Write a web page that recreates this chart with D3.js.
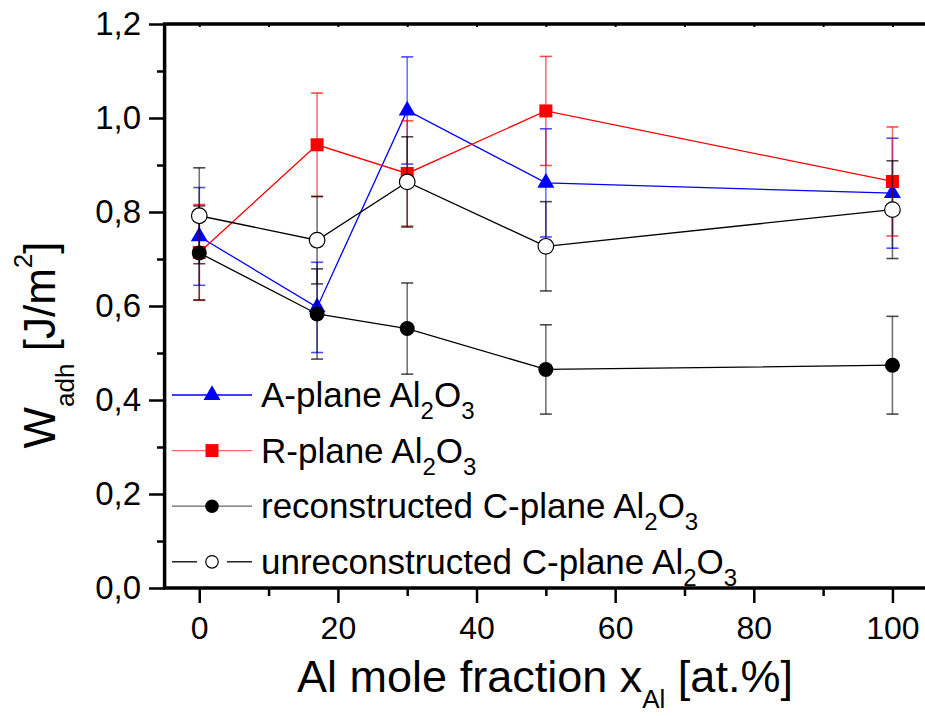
<!DOCTYPE html>
<html><head><meta charset="utf-8">
<script src="https://cdn.jsdelivr.net/npm/d3@7"></script>
<style>
body{margin:0;background:#fff;}
svg{display:block;font-family:"Liberation Sans",Arial,Helvetica,sans-serif;}
</style></head><body>
<svg id="chart" width="925" height="716"></svg>
<script>
// ---- data ----
const xValues = [0, 17, 30, 50, 100];
const aPlane = [0.748, 0.597, 1.016, 0.862, 0.840];
const aPlaneErr = [0.104, 0.096, 0.114, 0.115, 0.117];
const rPlane = [0.714, 0.943, 0.882, 1.015, 0.865];
const rPlaneErr = [0.102, 0.110, 0.112, 0.116, 0.116];
const cRecon = [0.713, 0.583, 0.552, 0.465, 0.474];
const cReconErr = [0.100, 0.096, 0.097, 0.095, 0.104];
const cUnrecon = [0.792, 0.740, 0.864, 0.727, 0.805];
const cUnreconErr = [0.102, 0.093, 0.096, 0.095, 0.104];
const xMajorTicks = [0, 20, 40, 60, 80, 100];
const xTickLabels = ["0", "20", "40", "60", "80", "100"];
const xMinorTicks = [10, 30, 50, 70, 90];
const yMajorTicks = [0, 0.2, 0.4, 0.6, 0.8, 1.0, 1.2];
const yTickLabels = ["0,0", "0,2", "0,4", "0,6", "0,8", "1,0", "1,2"];
const yMinorTicks = [0.1, 0.3, 0.5, 0.7, 0.9, 1.1];
const seriesNames = ["A-plane Al", "R-plane Al", "reconstructed C-plane Al", "unreconstructed C-plane Al"];

// ---- setup ----
const svg = d3.select('#chart');
svg.append('rect').attr('width', 925).attr('height', 716).attr('fill', '#fff');
const x = d3.scaleLinear().domain([-5, 105]).range([164.6, 927.1]);
const y = d3.scaleLinear().domain([0, 1.2]).range([588, 24]);

const series = [
  {name: seriesNames[0], vals: aPlane, err: aPlaneErr, color: '#0000ff', sym: 'tri'},
  {name: seriesNames[1], vals: rPlane, err: rPlaneErr, color: '#ff0000', sym: 'sq'},
  {name: seriesNames[2], vals: cRecon, err: cReconErr, color: '#000000', sym: 'dot'},
  {name: seriesNames[3], vals: cUnrecon, err: cUnreconErr, color: '#000000', sym: 'open'}
];

function drawMarker(g, sym, color, cx, cy, scale) {
  scale = scale || 1;
  if (sym === 'tri') {
    g.append('path').attr('d', d3.symbol(d3.symbolTriangle, 125 * scale * scale)())
      .attr('transform', `translate(${cx},${cy})`).attr('fill', color);
  } else if (sym === 'sq') {
    g.append('path').attr('d', d3.symbol(d3.symbolSquare, 169 * scale * scale)())
      .attr('transform', `translate(${cx},${cy})`).attr('fill', color);
  } else if (sym === 'dot') {
    g.append('circle').attr('cx', cx).attr('cy', cy).attr('r', 7.5 * scale).attr('fill', '#000');
  } else {
    g.append('circle').attr('cx', cx).attr('cy', cy).attr('r', 7.8 * scale)
      .attr('fill', '#fff').attr('stroke', '#000').attr('stroke-width', 1.2);
  }
}

// ---- series ----
const plot = svg.append('g');
const line = d3.line().x(d => x(d[0])).y(d => y(d[1]));
series.forEach(s => {
  const g = plot.append('g');
  const pts = xValues.map((xv, i) => [xv, s.vals[i], s.err[i]]);
  pts.forEach(p => {
    const eg = g.append('g').attr('stroke', s.color).attr('stroke-width', 1.6);
    eg.append('line').attr('x1', x(p[0])).attr('x2', x(p[0]))
      .attr('y1', y(p[1] + p[2])).attr('y2', y(p[1] - p[2])).attr('stroke-opacity', 0.55);
    [p[1] + p[2], p[1] - p[2]].forEach(v => {
      eg.append('line').attr('x1', x(p[0]) - 6).attr('x2', x(p[0]) + 6)
        .attr('y1', y(v)).attr('y2', y(v)).attr('stroke-opacity', 0.7);
    });
  });
  g.append('path').datum(pts).attr('d', line).attr('fill', 'none')
    .attr('stroke', s.color).attr('stroke-width', 1.3);
  pts.forEach(p => drawMarker(g, s.sym, s.color, x(p[0]), y(p[1])));
});

// ---- axes ----
const axG = svg.append('g');
const xAxis = axG.append('g').attr('transform', 'translate(0,588)')
  .call(d3.axisBottom(x).tickValues(xMajorTicks).tickSize(15).tickPadding(13)
    .tickFormat((d, i) => xTickLabels[i]));
const xAxisMinor = axG.append('g').attr('transform', 'translate(0,588)')
  .call(d3.axisBottom(x).tickValues(xMinorTicks).tickSize(8).tickFormat(''));
const xTop = axG.append('g').attr('transform', 'translate(0,24)')
  .call(d3.axisBottom(x).tickValues(xMajorTicks.concat(xMinorTicks)).tickSize(3).tickFormat(''));
const yAxis = axG.append('g').attr('transform', 'translate(165,0)')
  .call(d3.axisLeft(y).tickValues(yMajorTicks).tickSize(16).tickPadding(8)
    .tickFormat((d, i) => yTickLabels[i]));
const yAxisMinor = axG.append('g').attr('transform', 'translate(165,0)')
  .call(d3.axisLeft(y).tickValues(yMinorTicks).tickSize(8).tickFormat(''));
[xAxis, xAxisMinor, xTop, yAxis, yAxisMinor].forEach(a => {
  a.attr('font-family', null);
  a.select('.domain').remove();
  a.selectAll('.tick line').attr('stroke', '#000').attr('stroke-width', 2.5);
  a.selectAll('.tick text').attr('fill', '#000').attr('font-size', 32);
});
yAxis.selectAll('.tick text').attr('font-size', 33);
xTop.selectAll('.tick line').attr('stroke-width', 2);

// frame
axG.append('rect').attr('x', x(-5)).attr('y', y(1.2))
  .attr('width', x(105) - x(-5)).attr('height', y(0) - y(1.2))
  .attr('fill', 'none').attr('stroke', '#000').attr('stroke-width', 3.5);

// ---- axis titles ----
const xt = svg.append('text').attr('x', 545).attr('y', 692).attr('text-anchor', 'middle')
  .attr('font-size', 45).attr('fill', '#000');
xt.append('tspan').text('Al mole fraction x');
xt.append('tspan').attr('font-size', 26).attr('dy', 16).text('Al');
xt.append('tspan').attr('dy', -16).text(' [at.%]');

const yt = svg.append('text').attr('transform', 'translate(55,345) rotate(-90)')
  .attr('text-anchor', 'middle').attr('font-size', 44).attr('fill', '#000');
yt.append('tspan').text('W');
yt.append('tspan').attr('font-size', 26).attr('dy', 19).text('adh');
yt.append('tspan').attr('dy', -19).text(' [J/m');
yt.append('tspan').attr('font-size', 26).attr('dy', -23).text('2');
yt.append('tspan').attr('dy', 23).text(']');

// ---- legend ----
const leg = svg.append('g');
series.forEach((s, i) => {
  const cy = 395 + i * 55.6;
  const lg = leg.append('g');
  if (s.sym === 'open') {
    lg.append('line').attr('x1', 172).attr('x2', 197).attr('y1', cy).attr('y2', cy)
      .attr('stroke', '#000').attr('stroke-width', 1.3);
    lg.append('line').attr('x1', 227).attr('x2', 252).attr('y1', cy).attr('y2', cy)
      .attr('stroke', '#000').attr('stroke-width', 1.3);
  } else {
    lg.append('line').attr('x1', 172).attr('x2', 252).attr('y1', cy).attr('y2', cy)
      .attr('stroke', s.color).attr('stroke-width', 1.3)
      .attr('stroke-opacity', s.sym === 'tri' ? 1 : 0.6);
  }
  drawMarker(lg, s.sym, s.color, 212, cy, s.sym === 'open' ? 0.8 : (s.sym === 'dot' ? 0.9 : 1));
  const t = lg.append('text').attr('x', 261).attr('y', cy + 12).attr('font-size', 35).attr('fill', '#000');
  t.append('tspan').text(s.name);
  t.append('tspan').attr('font-size', 24).attr('dy', 12).text('2');
  t.append('tspan').attr('dy', -12).text('O');
  t.append('tspan').attr('font-size', 24).attr('dy', 12).text('3');
});
</script>
</body></html>
